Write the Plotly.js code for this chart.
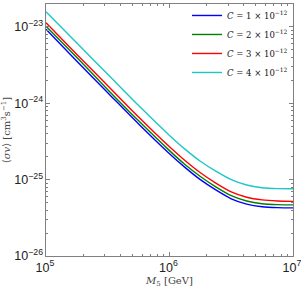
<!DOCTYPE html>
<html>
<head>
<meta charset="utf-8">
<script src="https://cdn.plot.ly/plotly-3.0.1.min.js"></script>
<style>html,body{margin:0;padding:0;background:#fff;}#chart{width:301px;height:299px;}</style>
</head>
<body>
<div id="chart"></div>
<script>
// M_5 [GeV]
var mass = [1e5, 1.778e5, 3.162e5, 5.623e5, 1e6, 1.334e6, 1.778e6, 2.371e6, 3.162e6, 4.217e6, 5.623e6, 7.499e6, 1e7];
// <sigma v> [cm^3 s^-1]
var sigmaC1 = [9.33e-24, 3.55e-24, 1.38e-24, 5.37e-25, 2.19e-25, 1.45e-25, 1.00e-25, 7.33e-26, 5.62e-26, 4.79e-26, 4.42e-26, 4.30e-26, 4.27e-26];
var sigmaC2 = [1.023e-23, 3.98e-24, 1.51e-24, 5.89e-25, 2.40e-25, 1.58e-25, 1.10e-25, 8.04e-26, 6.17e-26, 5.25e-26, 4.84e-26, 4.71e-26, 4.68e-26];
var sigmaC3 = [1.135e-23, 4.37e-24, 1.70e-24, 6.61e-25, 2.69e-25, 1.78e-25, 1.23e-25, 9.02e-26, 6.92e-26, 5.89e-26, 5.43e-26, 5.25e-26, 5.19e-26];
var sigmaC4 = [1.585e-23, 6.17e-24, 2.40e-24, 9.33e-25, 3.80e-25, 2.51e-25, 1.74e-25, 1.29e-25, 1.00e-25, 8.51e-26, 7.85e-26, 7.62e-26, 7.59e-26];
var seriesNames = [
  "<i>C</i> = 1 × 10<sup>−12</sup>",
  "<i>C</i> = 2 × 10<sup>−12</sup>",
  "<i>C</i> = 3 × 10<sup>−12</sup>",
  "<i>C</i> = 4 × 10<sup>−12</sup>"
];
var seriesColors = ["#0000ff", "#008000", "#ff0000", "#20c6c6"];
var seriesValues = [sigmaC1, sigmaC2, sigmaC3, sigmaC4];

var traces = seriesValues.map(function (vals, i) {
  return {
    x: mass, y: vals, type: "scatter", mode: "lines", name: seriesNames[i],
    line: {color: seriesColors[i], width: 1.4, shape: "spline", smoothing: 0.8}
  };
});

var axisCommon = {
  type: "log", showgrid: false, zeroline: false,
  showline: true, linecolor: "#808080", linewidth: 1, mirror: "allticks",
  ticks: "inside", ticklen: 4, tickcolor: "#808080",
  exponentformat: "power", dtick: 1, ticklabeloverflow: "allow",
  minor: {ticks: "inside", ticklen: 2, tickcolor: "#808080", dtick: "D1"},
  tickfont: {family: "Liberation Sans, Arial, sans-serif", size: 10, color: "#222"}
};

var layout = {
  width: 301, height: 299,
  margin: {l: 46, r: 8, t: 1, b: 43},
  paper_bgcolor: "#fff", plot_bgcolor: "#fff",
  showlegend: true,
  legend: {
    x: 1, y: 1.012, xanchor: "right", yanchor: "top",
    bgcolor: "rgba(0,0,0,0)", borderwidth: 0,
    font: {family: "DejaVu Serif, serif", size: 8.5, color: "#111"},
    itemwidth: 30, tracegroupgap: 0
  },
  xaxis: Object.assign({}, axisCommon, {
    range: [5, 7],
    ticklabelshift: -1,
    title: {text: "<i>M</i><sub>5</sub> [GeV]", standoff: 3,
      font: {family: "DejaVu Serif, serif", size: 10, color: "#444"}}
  }),
  yaxis: Object.assign({}, axisCommon, {
    range: [-26, Math.log10(2e-23)],
    title: {text: "⟨<i>σv</i>⟩ [cm<sup>3</sup>s<sup>−1</sup>]", standoff: 8,
      font: {family: "DejaVu Serif, serif", size: 10, color: "#444"}}
  })
};

Plotly.newPlot("chart", traces, layout, {staticPlot: true, displayModeBar: false});
</script>
</body>
</html>
